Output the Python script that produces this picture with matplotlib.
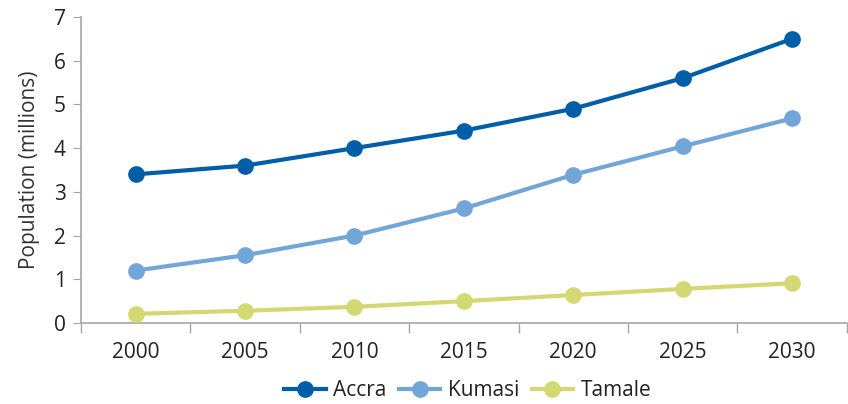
import numpy as np
from matplotlib import pyplot as plt

plt.rcParams['font.family'] = ['Open Sans', 'DejaVu Sans']

years = ["2000", "2005", "2010", "2015", "2020", "2025", "2030"]
accra = [3.4, 3.6, 4.0, 4.4, 4.9, 5.6, 6.5]
kumasi = [1.2, 1.55, 2.0, 2.62, 3.39, 4.04, 4.68]
tamale = [0.21, 0.28, 0.37, 0.5, 0.64, 0.78, 0.91]

names = ["Accra", "Kumasi", "Tamale"]
colors = ["#005ea8", "#72a6d9", "#d4d873"]

fig = plt.figure(figsize=(8.48, 4.04), dpi=100)
ax = fig.add_axes([0.0955, 0.2005, 0.903, 0.7575])

x = np.arange(len(years))
for vals, name, c in zip([accra, kumasi, tamale], names, colors):
    ax.plot(x, vals, color=c, lw=3, marker="o", ms=11, label=name, zorder=3)

ax.set_xlim(-0.5, len(years) - 0.5)
ax.set_ylim(0, 7)
ax.set_yticks(range(8))
ax.set_xticks(x)
ax.set_xticklabels(years)
ax.set_xticks(np.arange(-0.5, len(years)), minor=True)
ax.tick_params(axis="x", which="major", length=0, pad=14, labelsize=15, labelcolor="#222222")
ax.tick_params(axis="x", which="minor", length=7, color="#a6a6a6", width=1)
ax.tick_params(axis="y", length=6, color="#a6a6a6", labelsize=15, labelcolor="#222222", pad=5)

for s in ["top", "right"]:
    ax.spines[s].set_visible(False)
for s in ["left", "bottom"]:
    ax.spines[s].set_color("#a6a6a6")
    ax.spines[s].set_linewidth(1.2)

ax.set_ylabel("Population (millions)", fontsize=15, color="#333333", labelpad=10)

ax.legend(loc="center", bbox_to_anchor=(0.505, -0.222), ncol=3, frameon=False,
          fontsize=15, handlelength=2.0, columnspacing=0.6, handletextpad=0.35,
          labelcolor="#222222")

plt.savefig("out.png", dpi=100)
